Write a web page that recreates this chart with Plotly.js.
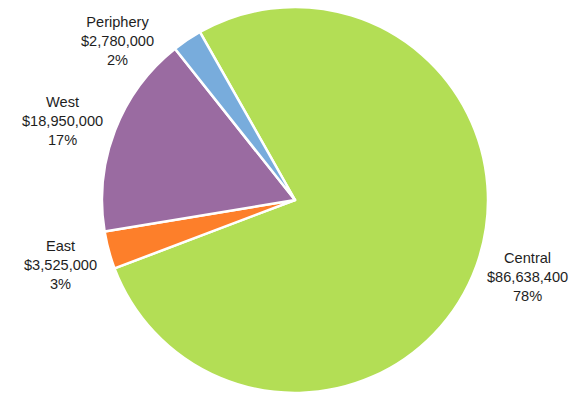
<!DOCTYPE html>
<html>
<head>
<meta charset="utf-8">
<script src="https://cdn.plot.ly/plotly-3.0.1.min.js"></script>
<style>html,body{margin:0;padding:0;background:#fff;}#chart{width:578px;height:394px;}</style>
</head>
<body>
<div id="chart"></div>
<script>
const regions = ["Central", "East", "West", "Periphery"];
const amounts = [86638400, 3525000, 18950000, 2780000];
const amountLabels = ["$86,638,400", "$3,525,000", "$18,950,000", "$2,780,000"];
const percentLabels = ["78%", "3%", "17%", "2%"];
const colors = ["#b3de55", "#fd7f2a", "#9a6ba1", "#78acdc"];

// label anchor positions (paper coords) for each region label block
const labelPos = [[527/578, 1 - 277/394], [61/578, 1 - 265/394], [62/578, 1 - 121/394], [117/578, 1 - 41/394]];

const annotations = regions.map((r, i) => ({
  xref: "paper", yref: "paper",
  x: labelPos[i][0], y: labelPos[i][1],
  xanchor: "center", yanchor: "middle",
  showarrow: false, align: "center",
  text: r + "<br>" + amountLabels[i] + "<br>" + percentLabels[i],
  font: {family: "Liberation Sans, Arial, sans-serif", size: 14.6, color: "#1e1e1e"}
}));

Plotly.newPlot("chart", [{
  type: "pie",
  labels: regions,
  values: amounts,
  sort: false,
  direction: "clockwise",
  rotation: -29.5,
  textinfo: "none",
  marker: {colors: colors, line: {color: "#ffffff", width: 2.5}},
  domain: {x: [102/578, 488/578], y: [1/394, 387/394]},
  hoverinfo: "label+value+percent"
}], {
  width: 578, height: 394,
  margin: {l: 0, r: 0, t: 0, b: 0},
  showlegend: false,
  paper_bgcolor: "#ffffff",
  annotations: annotations
}, {displayModeBar: false, staticPlot: true});
</script>
</body>
</html>
